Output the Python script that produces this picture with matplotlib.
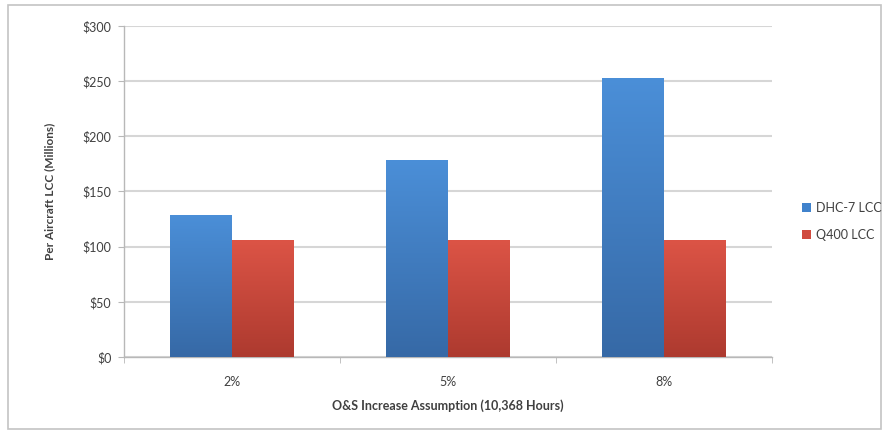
import matplotlib
matplotlib.use("Agg")
import matplotlib.pyplot as plt
import numpy as np
from matplotlib.patches import Patch, Rectangle
from matplotlib.ticker import FuncFormatter, FixedLocator

# O&S increase scenarios and per-aircraft life-cycle cost ($M)
scenarios = ["2%", "5%", "8%"]
dhc7_lcc = [129, 179, 253]
q400_lcc = [106, 106, 106]

series_names = ["DHC-7 LCC", "Q400 LCC"]
BLUE_TOP, BLUE_BOT = "#4b8fd8", "#3669a6"
RED_TOP, RED_BOT = "#dc5446", "#ad3a2f"
TEXT = "#404040"
GRID = "#d6d6d6"

plt.rcParams["font.family"] = ["Lato", "DejaVu Sans"]


def gradient_bars(ax, bars, top, bottom):
    # replace the flat fill with a vertical top-to-bottom gradient
    cmap = matplotlib.colors.LinearSegmentedColormap.from_list("g", [bottom, top])
    grad = np.linspace(0, 1, 256).reshape(-1, 1)
    for b in bars:
        x0, y0 = b.get_x(), b.get_y()
        w, h = b.get_width(), b.get_height()
        b.set_facecolor("none")
        im = ax.imshow(grad, cmap=cmap, origin="lower", aspect="auto",
                       extent=(x0, x0 + w, y0, y0 + h), zorder=3)
        im.set_clip_path(b)


fig = plt.figure(figsize=(8.89, 4.38), dpi=100)
fig.patches.append(Rectangle((8 / 889, 1 - 429 / 438), 873 / 889, 424 / 438,
                             transform=fig.transFigure, fill=False,
                             edgecolor="#c4c4c4", linewidth=1.2))

ax = fig.add_axes([124 / 889, 1 - 357 / 438, 648 / 889, 331 / 438])

x = np.arange(len(scenarios))
w = 0.285
b1 = ax.bar(x - w / 2, dhc7_lcc, w, color=BLUE_TOP, zorder=3, linewidth=0)
b2 = ax.bar(x + w / 2, q400_lcc, w, color=RED_TOP, zorder=3, linewidth=0)
gradient_bars(ax, b1, BLUE_TOP, BLUE_BOT)
gradient_bars(ax, b2, RED_TOP, RED_BOT)

ax.set_xlim(-0.5, len(scenarios) - 0.5)
ax.set_ylim(0, 300)
ax.set_yticks(range(0, 301, 50))
ax.yaxis.set_major_formatter(FuncFormatter(lambda v, _: f"${v:.0f}"))
ax.grid(axis="y", color=GRID, linewidth=1.5, zorder=0)
ax.set_axisbelow(True)

ax.set_xticks(x)
ax.set_xticklabels(scenarios)
ax.xaxis.set_minor_locator(FixedLocator(np.arange(-0.5, len(scenarios), 1.0)))
ax.tick_params(axis="x", which="major", length=0, pad=14, labelsize=9, labelcolor=TEXT)
ax.tick_params(axis="x", which="minor", length=4, color="#b8b8b8", direction="out")
ax.tick_params(axis="y", length=4, color="#b8b8b8", pad=5, labelsize=9, labelcolor=TEXT)

for side in ("top", "right"):
    ax.spines[side].set_visible(False)
for side in ("left", "bottom"):
    ax.spines[side].set_color("#b8b8b8")
    ax.spines[side].set_linewidth(1.0)

ax.set_xlabel("O&S Increase Assumption (10,368 Hours)", fontsize=9, fontweight="bold",
              color=TEXT, labelpad=8)
ax.set_ylabel("Per Aircraft LCC (Millions)", fontsize=8.5, fontweight="bold",
              color=TEXT, labelpad=20)

handles = [Patch(facecolor="#4082cc", edgecolor="none"),
           Patch(facecolor="#d04a3e", edgecolor="none")]
fig.legend(handles, series_names, loc="center left",
           bbox_to_anchor=(791 / 889, 1 - 221 / 438), frameon=False,
           fontsize=9, labelcolor=TEXT, handlelength=0.7, handleheight=0.7,
           handletextpad=0.4, labelspacing=1.2)

fig.savefig("out.png", dpi=100)
